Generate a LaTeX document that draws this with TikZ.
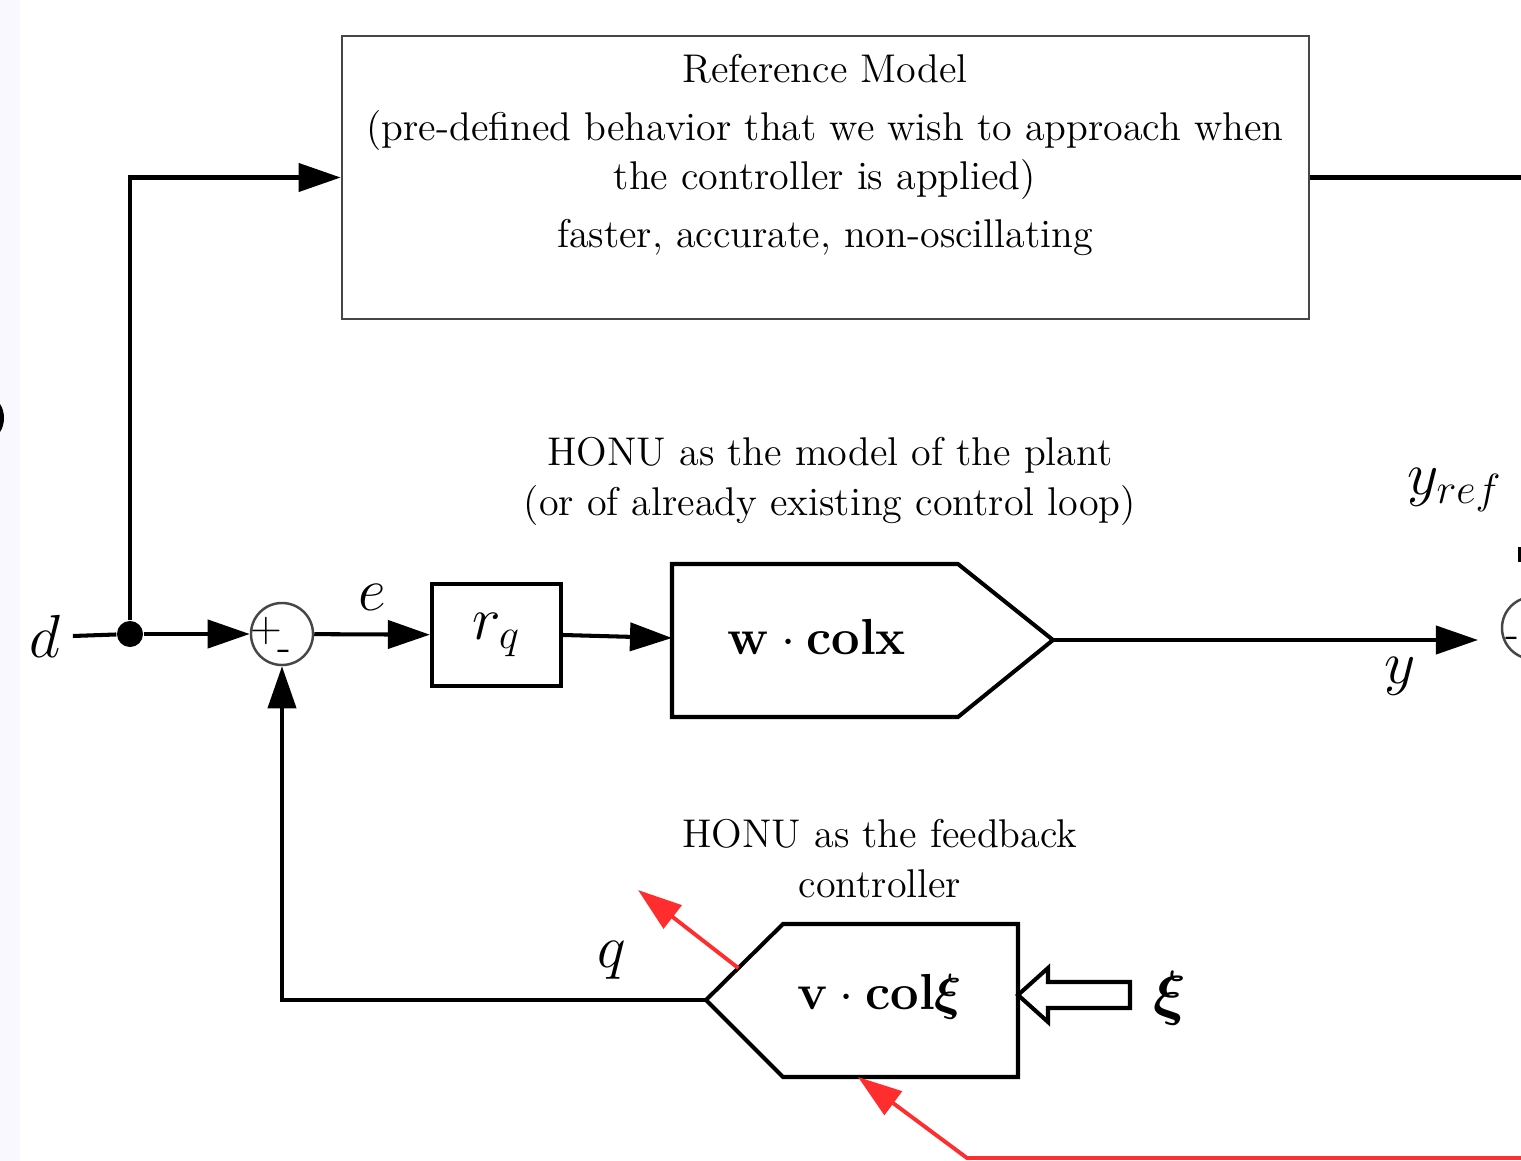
\documentclass[tikz,border=0pt]{standalone}
\usepackage{amsmath}
\usepackage{amssymb}
\usepackage{xcolor}
\usepackage{tikz}
\usetikzlibrary{arrows.meta,calc}
\definecolor{stripgray}{RGB}{248,248,254}
\definecolor{adaptred}{RGB}{255,45,45}
\definecolor{boxgray}{RGB}{70,70,70}

\tikzset{
  sigline/.style={line width=1.15pt},
  sigarrow/.style={line width=1.15pt,-{Triangle[length=4.2mm,width=2.8mm]}},
  learnarrow/.style={adaptred,line width=1.1pt,-{Triangle[length=4.4mm,width=2.9mm]}},
  blockline/.style={line width=1.15pt,line join=miter},
  sumnode/.style={circle,draw=boxgray,line width=0.7pt,minimum size=6.2mm,inner sep=0pt},
  signmark/.style={inner sep=0pt,font=\fontsize{12}{14}\selectfont},
  sigtext/.style={font=\fontsize{17.28}{20}\selectfont},
  unittext/.style={font=\fontsize{14.4}{17}\selectfont},
}

\begin{document}
\begin{tikzpicture}[x=0.01cm,y=-0.01cm,font=\fontsize{11.4}{14.2}\selectfont]
\useasboundingbox (0,0) rectangle (1521,1161);
\fill[stripgray] (0,0) rectangle (20,1161);
\begin{scope}
  \clip (0,0) rectangle (1521,1161);
  \fill (-10,418) ellipse (1.4mm and 2mm);
  \node[sumnode] (sumref) at (1533,628) {};
  \node[signmark] (sumrefminus) at (1512,642) {-};
  \draw[sigline] (1520,547) -- (1520,562);
\end{scope}

\node[draw=boxgray,line width=0.6pt,minimum width=9.67cm,minimum height=2.83cm,inner sep=0pt] (refmodel) at (825.5,177.5) {};
\node[align=center] (reftext) at (825,155) {Reference Model\\[2.3pt]
  (pre-defined behavior that we wish to approach when\\
  the controller is applied)\\[2.3pt]
  faster, accurate, non-oscillating};
\coordinate (refout) at (1521,177.5);
\draw[sigline] (refmodel.east) -- (refout);

\node[sigtext] (dsrc) at (45,636) {$d$};
\node[circle,fill,inner sep=0pt,minimum size=2.6mm] (split) at (130,634) {};
\node[sumnode] (sum) at (282,634) {};
\node[signmark] (plus) at (266,631) {$+$};
\node[signmark] (minus) at (284,655) {-};
\draw[sigline] (dsrc.east) -- (split);
\draw[sigarrow] (split) -- (sum);
\draw[sigarrow] (split) |- (refmodel.west);

\node[draw,line width=1.15pt,minimum width=1.29cm,minimum height=1.02cm,sigtext] (rq) at (496.5,635) {$r_q$};
\draw[sigarrow] (sum) -- node[sigtext,above=1mm] (elbl) {$e$} (rq);

\coordinate (plantin) at (672,638);
\coordinate (plantout) at (1053,640);
\draw[blockline] (672,564) -- (958,564) -- (plantout) -- (958,717) -- (672,717) -- cycle;
\node[unittext] (plant) at (817,637) {$\mathbf{w}\cdot\mathbf{colx}$};
\draw[sigarrow] (rq.east) -- (plantin);
\coordinate (yout) at (1478,640);
\draw[sigarrow] (plantout) -- (yout);
\node[sigtext] (ylbl) at (1400,676) {$y$};
\node[sigtext] (yreflbl) at (1455,490) {$y_{ref}$};

\node[align=center] (plantnote) at (830,481) {HONU as the model of the plant\\(or of already existing control loop)};
\node[align=center] (ctrlnote) at (880,859) {HONU as the feedback\\controller};

\coordinate (ctrltip) at (706,1000);
\coordinate (ctrlnw) at (783,924);
\draw[blockline] (ctrltip) -- (ctrlnw) -- (1018,924) -- (1018,1077) -- (783,1077) -- cycle;
\node[unittext] (ctrl) at (880,997) {$\mathbf{v}\cdot\mathbf{col}\boldsymbol{\xi}$};
\draw[sigarrow] (ctrltip) -| (sum.south);
\node[sigtext] (qlbl) at (612,960) {$q$};

\draw[line width=1.15pt,line join=miter,fill=white] (1018,995) -- (1048,968) -- (1048,982) -- (1130,982)
  -- (1130,1008) -- (1048,1008) -- (1048,1022) -- cycle;
\node[sigtext] (xilbl) at (1170,998) {$\boldsymbol{\xi}$};

\coordinate (wtap) at ($(ctrltip)!0.42!(ctrlnw)$);
\coordinate (wgrad) at (638,890);
\draw[learnarrow] (wtap) -- (wgrad);
\coordinate (errin) at (1521,1158);
\coordinate (vgrad) at (858,1077);
\draw[learnarrow] (errin) -- (967,1158) -- (vgrad);
\end{tikzpicture}
\end{document}
